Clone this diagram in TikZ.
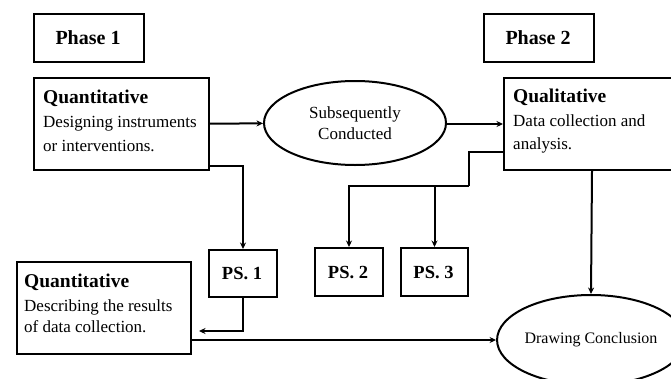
\documentclass[tikz,border=0pt]{standalone}
\usepackage{fontspec}
\setmainfont{Liberation Serif}
\usetikzlibrary{shapes.geometric,arrows.meta,calc}
\begin{document}
\begin{tikzpicture}[x=1pt,y=-1pt,
  boxx/.style={draw,line width=2pt,rectangle,inner sep=0pt,anchor=north west},
  ell/.style={draw,line width=2pt,ellipse,inner sep=0pt,align=center},
  arr/.style={line width=2pt,-{Stealth[length=6.5pt,width=6pt]}},
  plain/.style={line width=2pt},
  phasetxt/.style={font=\bfseries\fontsize{20}{24}\selectfont,anchor=base},
  pstxt/.style={font=\bfseries\fontsize{18.5}{22}\selectfont,anchor=base},
  head/.style={font=\bfseries\fontsize{19.5}{23}\selectfont,anchor=base west,inner sep=0pt},
  body/.style={font=\fontsize{17}{20}\selectfont,anchor=base west,inner sep=0pt}]
\useasboundingbox (0,0) rectangle (671,378);
% phase boxes
\node[boxx,minimum width=110pt,minimum height=48pt] (ph1) at (33,13) {};
\node[phasetxt] (ph1t) at (88,44) {Phase 1};
\node[boxx,minimum width=110pt,minimum height=48pt] (ph2) at (483,13) {};
\node[phasetxt] (ph2t) at (538,44) {Phase 2};
% quantitative 1
\node[boxx,minimum width=175pt,minimum height=92pt] (q1) at (33,77) {};
\node[head] (q1h) at (43,103) {Quantitative};
\node[body] (q1a) at (43,127) {Designing instruments};
\node[body] (q1b) at (43,151) {or interventions.};
% ellipse 1
\node[ell,minimum width=182pt,minimum height=84pt,font=\fontsize{17}{21}\selectfont] (e1) at (355,123) {Subsequently\\Conducted};
% qualitative
\node[boxx,minimum width=176pt,minimum height=92pt] (qual) at (503,77) {};
\node[head] (qualh) at (513,102) {Qualitative};
\node[body] (quala) at (513,126) {Data collection and};
\node[body] (qualb) at (513,149) {analysis.};
% PS boxes
\node[boxx,minimum width=68pt,minimum height=47pt] (ps1) at (208,249) {};
\node[pstxt] (ps1t) at (242,279) {PS. 1};
\node[boxx,minimum width=68pt,minimum height=48pt] (ps2) at (314,247) {};
\node[pstxt] (ps2t) at (348,278) {PS. 2};
\node[boxx,minimum width=67pt,minimum height=48pt] (ps3) at (400,247) {};
\node[pstxt] (ps3t) at (433.5,278) {PS. 3};
% quantitative 2
\node[boxx,minimum width=174pt,minimum height=92pt] (q2) at (16,261) {};
\node[head] (q2h) at (24,287) {Quantitative};
\node[body] (q2a) at (24,311) {Describing the results};
\node[body] (q2b) at (24,332) {of data collection.};
% drawing conclusion
\node[ell,minimum width=182pt,minimum height=90pt,font=\fontsize{16}{20}\selectfont] (dc) at (591,340) {Drawing Conclusion};
% coordinates
\coordinate (c1) at (199,331);
\coordinate (c2) at (469,152);
\coordinate (c3) at (469,186);
% connectors
\draw[arr] (q1) -- (e1);
\draw[arr] (e1.east |- qual.west) -- (qual.west);
\draw[arr] ([yshift=5pt]q1.south east) -| (ps1.north);
\draw[arr] (ps1.south) |- (c1);
\draw[arr] (q2.east |- dc.west) -- (dc.west);
\draw[arr] (qual.south) -- (dc.north);
\draw[plain] (qual.west |- c2) -- (c2) -- (c3);
\draw[arr] (c3) -| (ps2.north);
\draw[arr] (ps3.north |- c3) -- (ps3.north);
\end{tikzpicture}
\end{document}
